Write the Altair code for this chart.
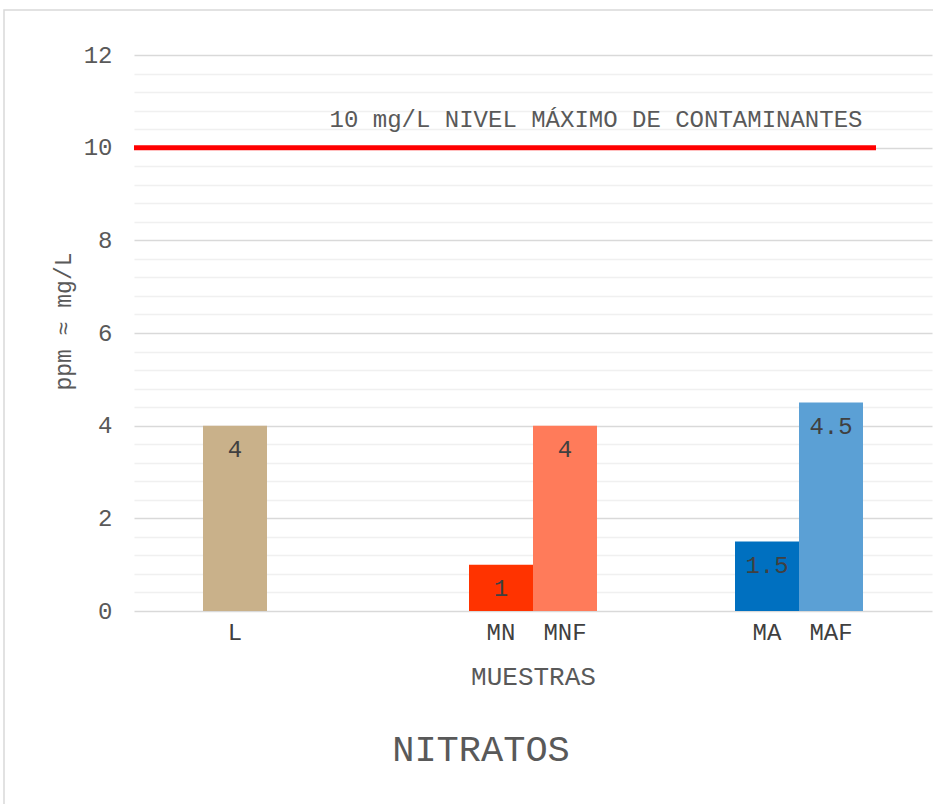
import altair as alt
import pandas as pd

# ---- data ----
groups = ["G1", "G2", "G2", "G3", "G3"]
slots = ["a", "a", "b", "a", "b"]
samples = ["L", "MN", "MNF", "MA", "MAF"]
values = [4, 1, 4, 1.5, 4.5]
colors = ["#C9B18A", "#FF3300", "#FF7B5A", "#0070C0", "#5BA0D5"]

limit_value = [10]
limit_label = ["10 mg/L NIVEL MÁXIMO DE CONTAMINANTES"]
chart_title = ["NITRATOS"]

y_major = [0, 2, 4, 6, 8, 10, 12]
y_minor = [round(0.4 * i, 1) for i in range(31) if i % 5 != 0]

df = pd.DataFrame({"group": groups, "slot": slots, "sample": samples, "value": values})
limit_df = pd.DataFrame({"value": limit_value, "label": limit_label})
frame_df = pd.DataFrame({"k": [0]})
title_df = pd.DataFrame({"t": chart_title})

FONT = "Courier New, Courier, FreeMono, Nimbus Mono PS, Liberation Mono, monospace"
GRAY = "#595959"
DARK = "#404040"

x_enc = alt.X(
    "group:N",
    scale=alt.Scale(paddingInner=0.5188, paddingOuter=0.2594),
    axis=alt.Axis(labels=False, ticks=False, domain=False, grid=False,
                  title="MUESTRAS", titleFont=FONT, titleFontSize=26,
                  titleFontWeight="normal", titleColor=GRAY, titlePadding=52),
)
xoff = alt.XOffset("slot:N", scale=alt.Scale(paddingOuter=0, paddingInner=0))
y_scale = alt.Scale(domain=[0, 12], nice=False, zero=True)

major_axis = alt.Axis(values=y_major, orient="left", ticks=False, domain=False,
                      grid=True, gridColor="#D9D9D9", gridWidth=1.5,
                      labelFont=FONT, labelFontSize=24, labelColor=GRAY, labelPadding=22,
                      title="ppm ≈ mg/L", titleFont=FONT, titleFontSize=23,
                      titleFontWeight="normal", titleColor=GRAY,
                      titleX=-71, titleY=266, titleBaseline="middle", titleAlign="center",
                      titleAngle=270)
minor_axis = alt.Axis(values=y_minor, orient="right", ticks=False, domain=False,
                      labels=False, title=None, grid=True, gridColor="#F0F0F0", gridWidth=1.5)

frame = alt.Chart(frame_df).mark_rect(filled=False, stroke="#D9D9D9", strokeWidth=1.5).encode(
    x=alt.value(-130), x2=alt.value(900), y=alt.value(-45), y2=alt.value(800)
)

bars = alt.Chart(df).mark_bar().encode(
    x=x_enc, xOffset=xoff,
    y=alt.Y("value:Q", scale=y_scale, axis=major_axis),
    color=alt.Color("sample:N", scale=alt.Scale(domain=samples, range=colors), legend=None),
)

value_labels = alt.Chart(df).mark_text(
    font=FONT, fontSize=24, color=DARK, baseline="middle", dy=24
).encode(
    x=x_enc, xOffset=xoff,
    y=alt.Y("value:Q", scale=y_scale, axis=minor_axis),
    text=alt.Text("value:Q"),
)

cat_labels = alt.Chart(df).mark_text(
    font=FONT, fontSize=24, color=DARK, baseline="middle"
).encode(
    x=x_enc, xOffset=xoff,
    y=alt.value(578),
    text="sample:N",
)

limit_line = alt.Chart(limit_df).mark_rule(color="#FF0000", strokeWidth=5).encode(
    y=alt.Y("value:Q", scale=y_scale, axis=None),
    x=alt.value(0), x2=alt.value(742),
)

limit_text = alt.Chart(limit_df).mark_text(
    font=FONT, fontSize=24, color=GRAY, baseline="middle", align="center", dy=-28
).encode(
    y=alt.Y("value:Q", scale=y_scale, axis=None),
    x=alt.value(462),
    text="label:N",
)

title_text = alt.Chart(title_df).mark_text(
    font=FONT, fontSize=37, color=GRAY, baseline="middle", align="center"
).encode(
    x=alt.value(347), y=alt.value(695), text="t:N"
)

chart = alt.layer(frame, bars, value_labels, cat_labels, limit_line, limit_text, title_text).resolve_axis(
    y="independent"
).properties(
    width=798, height=556,
    autosize=alt.AutoSizeParams(type="none"),
    padding={"left": 134, "top": 55, "right": 1, "bottom": 193},
).configure_view(stroke=None)

chart.save("out.html", embed_options={"renderer": "svg", "actions": False})
